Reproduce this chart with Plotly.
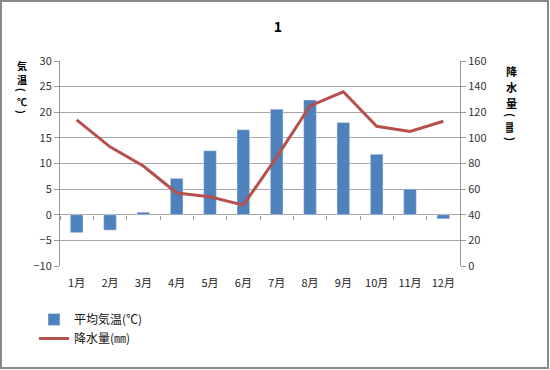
import plotly.graph_objects as go

months = ["1月", "2月", "3月", "4月", "5月", "6月", "7月", "8月", "9月", "10月", "11月", "12月"]
temp = [-3.5, -3.0, 0.5, 7.1, 12.5, 16.6, 20.6, 22.4, 18.0, 11.8, 5.0, -0.8]
precip = [114, 93, 78, 57, 54, 47.5, 85, 125, 136, 109, 105, 113]
# (character, rotated?) for the stacked vertical axis titles
left_title = [("気", 0), ("温", 0), ("(", 90), ("℃", 0), (")", 90)]
right_title = [("降", 0), ("水", 0), ("量", 0), ("(", 90), ("㎜", 90), (")", 90)]

W, H = 550, 370
L, R, T, B = 60, 90, 61, 104
pw, ph = W - L - R, H - T - B

FONT = "Noto Sans CJK JP, Noto Sans, sans-serif"

fig = go.Figure()
fig.add_trace(go.Bar(x=months, y=temp, name="平均気温(℃)", marker_color="#4F81BD",
                     width=0.38, yaxis="y", xaxis="x"))
fig.add_trace(go.Scatter(x=months, y=precip, name="降水量(㎜)", mode="lines",
                         line=dict(color="#B5504D", width=3), yaxis="y2", xaxis="x"))
fig.add_trace(go.Scatter(x=months, y=[0]*12, xaxis="x3", yaxis="y", mode="none",
                         showlegend=False, hoverinfo="skip"))

def px2px(x):
    return (x - L) / pw

def py2py(y):
    return (T + ph - y) / ph

fig.update_layout(
    width=W, height=H,
    margin=dict(l=L, r=R, t=T, b=B),
    paper_bgcolor="white", plot_bgcolor="white",
    font=dict(family=FONT, size=11, color="#333"),
    title=dict(text="<b>1</b>", x=278 / W, xanchor="center", y=1 - 27 / H, yanchor="middle",
               font=dict(size=14, color="#000")),
    showlegend=True,
    legend=dict(orientation="v", x=px2px(34), y=py2py(305), xanchor="left", yanchor="top",
                font=dict(size=12, color="#111"), bgcolor="rgba(0,0,0,0)",
                tracegroupgap=0, itemwidth=30),
    xaxis=dict(range=[-0.5, 11.5], showgrid=False, showline=False, ticks="",
               tickfont=dict(size=11, color="#222"), ticklabelstandoff=9, zeroline=False),
    xaxis3=dict(overlaying="x", anchor="free", position=0.25, range=[-0.5, 11.5],
                showticklabels=False, ticks="outside", ticklen=4, tickcolor="#999",
                tickson="boundaries", showline=False, showgrid=False, zeroline=False,
                matches="x"),
    yaxis=dict(range=[-10, 30], dtick=5, showgrid=True, gridcolor="#A6A6A6", gridwidth=1,
               showline=True, linecolor="#999", linewidth=1, ticks="outside", ticklen=5,
               tickcolor="#999", zeroline=False, tickfont=dict(size=11, color="#333")),
    yaxis2=dict(range=[0, 160], dtick=20, overlaying="y", side="right", showgrid=False,
                showline=True, linecolor="#999", linewidth=1, ticks="outside", ticklen=5,
                tickcolor="#999", zeroline=False, tickfont=dict(size=11, color="#333")),
    bargap=0.6,
)

left_y = [65, 79, 90, 101, 112]
for (ch, ang), yy in zip(left_title, left_y):
    fig.add_annotation(text="<b>" + ch + "</b>", xref="paper", yref="paper",
                       x=px2px(22), y=py2py(yy), xanchor="center", yanchor="middle",
                       textangle=ang, showarrow=False, font=dict(size=10, color="#000"))
right_y = [71, 87, 103, 115, 127, 139]
for (ch, ang), yy in zip(right_title, right_y):
    fig.add_annotation(text="<b>" + ch + "</b>", xref="paper", yref="paper",
                       x=px2px(511), y=py2py(yy), xanchor="center", yanchor="middle",
                       textangle=ang, showarrow=False, font=dict(size=11, color="#000"))

fig.add_shape(type="rect", xref="paper", yref="paper",
              x0=px2px(1), x1=px2px(548), y0=py2py(368), y1=py2py(1),
              line=dict(color="#888", width=2), fillcolor="rgba(0,0,0,0)", layer="below")

fig.write_html("out.html")
